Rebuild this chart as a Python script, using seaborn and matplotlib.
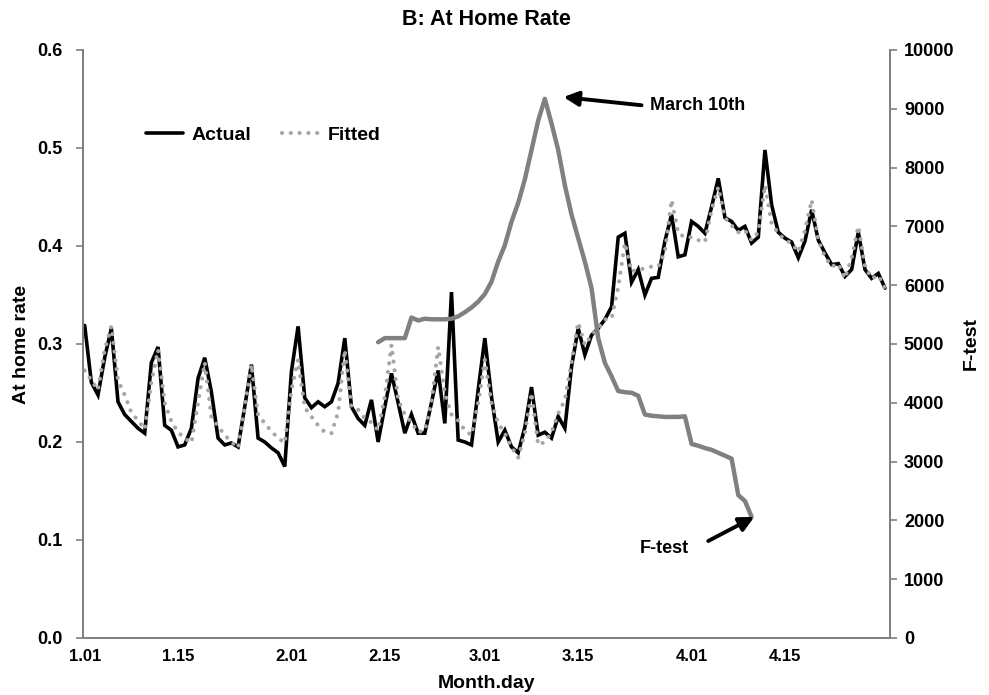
import numpy as np
import pandas as pd
import matplotlib
matplotlib.use("Agg")
import matplotlib.pyplot as plt
import seaborn as sns

# Daily at-home rate, Jan 1 - Apr 30 2020
dates = pd.date_range("2020-01-01", "2020-04-30", freq="D")

actual = [
    0.319, 0.261, 0.248, 0.286, 0.316, 0.241, 0.228, 0.221, 0.214, 0.209,
    0.281, 0.297, 0.217, 0.212, 0.195, 0.197, 0.214, 0.265, 0.286, 0.251,
    0.204, 0.197, 0.199, 0.195, 0.236, 0.279, 0.204, 0.200, 0.194, 0.189,
    0.175, 0.272, 0.318, 0.245, 0.235, 0.241, 0.236, 0.241, 0.260, 0.306,
    0.236, 0.224, 0.217, 0.243, 0.200, 0.236, 0.270, 0.240, 0.209, 0.228,
    0.209, 0.209, 0.240, 0.273, 0.219, 0.353, 0.202, 0.200, 0.197, 0.253,
    0.306, 0.246, 0.200, 0.212, 0.195, 0.189, 0.215, 0.256, 0.207, 0.210,
    0.204, 0.226, 0.214, 0.277, 0.316, 0.289, 0.309, 0.316, 0.325, 0.338,
    0.409, 0.413, 0.363, 0.376, 0.350, 0.367, 0.368, 0.405, 0.432, 0.389,
    0.391, 0.425, 0.420, 0.413, 0.440, 0.469, 0.429, 0.425, 0.416, 0.420,
    0.403, 0.409, 0.498, 0.442, 0.414, 0.408, 0.404, 0.388, 0.405, 0.437,
    0.406, 0.393, 0.381, 0.382, 0.369, 0.376, 0.414, 0.376, 0.367, 0.372,
    0.357,
]

fitted = [
    0.273, 0.263, 0.253, 0.294, 0.318, 0.263, 0.248, 0.230, 0.222, 0.213,
    0.261, 0.294, 0.240, 0.221, 0.210, 0.204, 0.199, 0.240, 0.281, 0.226,
    0.216, 0.207, 0.200, 0.194, 0.236, 0.279, 0.228, 0.219, 0.211, 0.204,
    0.199, 0.253, 0.284, 0.235, 0.226, 0.217, 0.210, 0.209, 0.230, 0.294,
    0.236, 0.233, 0.224, 0.220, 0.212, 0.246, 0.299, 0.243, 0.228, 0.220,
    0.210, 0.212, 0.240, 0.297, 0.250, 0.228, 0.222, 0.212, 0.207, 0.240,
    0.284, 0.240, 0.219, 0.209, 0.195, 0.184, 0.209, 0.250, 0.197, 0.200,
    0.210, 0.229, 0.243, 0.281, 0.322, 0.299, 0.309, 0.316, 0.325, 0.326,
    0.358, 0.403, 0.374, 0.376, 0.377, 0.379, 0.379, 0.394, 0.447, 0.413,
    0.409, 0.409, 0.406, 0.404, 0.437, 0.460, 0.429, 0.421, 0.414, 0.416,
    0.406, 0.414, 0.462, 0.423, 0.413, 0.406, 0.403, 0.394, 0.416, 0.447,
    0.406, 0.389, 0.379, 0.382, 0.367, 0.388, 0.420, 0.379, 0.367, 0.370,
    0.357,
]

# F-test statistic, Feb 14 - Apr 10
ftest_start = "2020-02-14"
ftest = [
    5030, 5100, 5100, 5100, 5100, 5450, 5400, 5430, 5420, 5420,
    5420, 5430, 5470, 5540, 5620, 5720, 5850, 6060, 6400, 6680,
    7080, 7400, 7800, 8300, 8800, 9170, 8750, 8300, 7700, 7200,
    6800, 6400, 5950, 5100, 4680, 4450, 4200, 4180, 4170, 4120,
    3800, 3780, 3770, 3760, 3760, 3760, 3770, 3300, 3270, 3230,
    3200, 3150, 3100, 3050, 2430, 2330, 2060,
]

peak_label = "March 10th"
series_names = ["Actual", "Fitted"]

day = np.arange(len(dates))
df = pd.DataFrame({"day": day, "Actual": actual, "Fitted": fitted})
f_day = np.arange(len(ftest)) + (pd.Timestamp(ftest_start) - dates[0]).days
df_f = pd.DataFrame({"day": f_day, "F-test": ftest})

sns.set_theme(style="white")
plt.rcParams["font.family"] = ["Liberation Sans", "DejaVu Sans"]
plt.rcParams["font.weight"] = "bold"
plt.rcParams["text.color"] = "black"
plt.rcParams["axes.labelcolor"] = "black"
plt.rcParams["xtick.color"] = "black"
plt.rcParams["ytick.color"] = "black"

fig = plt.figure(figsize=(9.89, 6.95), dpi=100)
ax = fig.add_axes([83 / 989, 57 / 695, 807 / 989, 588 / 695])
ax2 = ax.twinx()

sns.lineplot(data=df, x="day", y="Actual", ax=ax, color="black", lw=2.6,
             label=series_names[0], zorder=3)
sns.lineplot(data=df, x="day", y="Fitted", ax=ax, color="#A6A6A6", lw=3.0,
             linestyle=(0, (0.01, 2.1)), label=series_names[1], zorder=4)
for ln in ax.get_lines():
    ln.set_dash_capstyle("round")
    ln.set_solid_joinstyle("miter")

sns.lineplot(data=df_f, x="day", y="F-test", ax=ax2, color="#808080", lw=3.2,
             legend=False)

ax.set_xlim(-0.25, 120.75)
ax.set_ylim(0, 0.6)
ax2.set_ylim(0, 10000)

# month.day ticks on the 1st and 15th
tick_mask = np.isin(dates.day, [1, 15])
ax.set_xticks(day[tick_mask])
ax.set_xticklabels([f"{d.month}.{d.day:02d}" for d in dates[tick_mask]],
                   fontsize=12, fontweight="bold", color="black")
yt = np.arange(0, 0.61, 0.1)
ax.set_yticks(yt)
ax.set_yticklabels([f"{v:.1f}" for v in yt], fontsize=13, fontweight="bold",
                   color="black")
ax2.set_yticks(np.arange(0, 10001, 1000))
ax2.set_yticklabels([str(v) for v in range(0, 10001, 1000)],
                    fontsize=13, fontweight="bold", color="black")

ax.tick_params(axis="x", length=0, pad=8)
ax.tick_params(axis="y", length=5, width=1.2, color="#808080", direction="out", pad=10)
ax2.tick_params(axis="y", length=5, width=1.2, color="#808080", direction="out", pad=5)

for a in (ax, ax2):
    a.spines["top"].set_visible(False)
    for s in ("left", "right", "bottom"):
        a.spines[s].set_color("#808080")
        a.spines[s].set_linewidth(1.4)
    a.grid(False)

ax.set_xlabel("Month.day", fontsize=14, fontweight="bold", labelpad=8,
              color="black")
ax.set_ylabel("At home rate", fontsize=14, fontweight="bold", labelpad=5,
              color="black")
ax2.set_ylabel("F-test", fontsize=14, fontweight="bold", labelpad=6,
               color="black")
ax.set_title("B: At Home Rate", fontsize=15.5, fontweight="bold", pad=18,
             color="black")

ax.legend(loc="upper left", bbox_to_anchor=(0.056, 0.9), ncol=2,
          frameon=False, handlelength=1.9, handletextpad=0.45,
          columnspacing=1.6, prop={"weight": "bold", "size": 14})

# annotations on the F-test axis
arrow_kw = dict(arrowstyle="-|>", color="black", lw=2.8,
                mutation_scale=22, shrinkA=0, shrinkB=0)
peak_i = int(np.argmax(ftest))
ax2.annotate("", xy=(f_day[peak_i] + 2.8, ftest[peak_i] + 30),
             xytext=(83.5, 9060), arrowprops=arrow_kw)
ax2.text(84.8, 9050, peak_label, fontsize=13, fontweight="bold",
         va="center", ha="left", color="black")
ax2.annotate("", xy=(f_day[-1] + 0.4, ftest[-1]),
             xytext=(93.5, 1650), arrowprops=arrow_kw)
ax2.text(83.3, 1530, "F-test", fontsize=13, fontweight="bold",
         va="center", ha="left", color="black")

fig.savefig("out.png", dpi=100, facecolor="white")
